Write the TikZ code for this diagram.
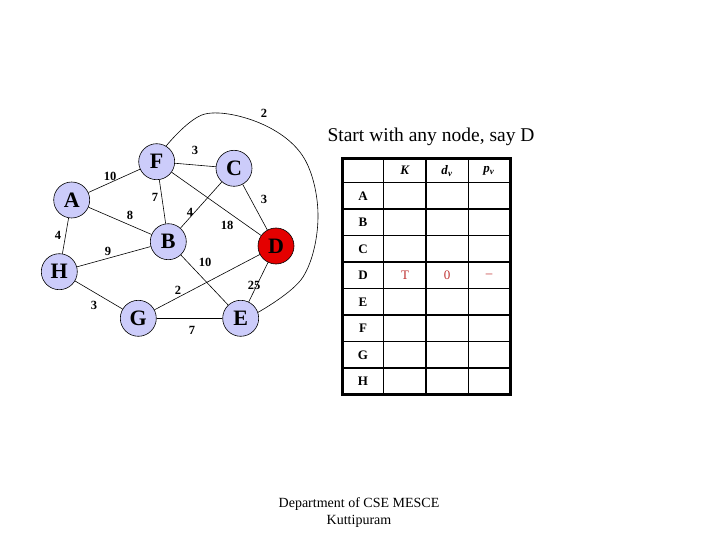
\documentclass[tikz,border=0pt]{standalone}
\usepackage{fontspec}
\setmainfont{Liberation Serif}
\definecolor{nodefill}{RGB}{204,204,250}
\definecolor{dnode}{RGB}{228,0,0}
\definecolor{cellred}{RGB}{190,48,48}
\begin{document}
\begin{tikzpicture}[x=1pt,y=-1pt,
  vert/.style={circle,draw=black,line width=0.6pt,fill=nodefill,minimum size=36pt,inner sep=0pt,font=\fontsize{22}{22}\selectfont\bfseries},
  wlab/.style={inner sep=0pt,font=\fontsize{12.5}{12.5}\selectfont\bfseries},
  edge/.style={line width=0.6pt,black},
  tlab/.style={inner sep=0pt,font=\fontsize{13}{13}\selectfont\bfseries},
  tred/.style={inner sep=0pt,text=cellred,font=\fontsize{13}{13}\selectfont}]
\useasboundingbox (0,0) rectangle (720,540);
% graph nodes
\node[vert] (F) at (156.7,161.7) {F};
\node[vert] (C) at (234,168.3) {C};
\node[vert] (A) at (71.7,200) {A};
\node[vert] (B) at (168.3,241.7) {B};
\node[vert,fill=dnode] (D) at (276,246) {D};
\node[vert] (H) at (59.3,271.7) {H};
\node[vert] (G) at (138.3,318.3) {G};
\node[vert] (E) at (240.7,318.3) {E};
% edges
\draw[edge] (F) -- (C);
\draw[edge] (F) -- (A);
\draw[edge] (F) -- (B);
\draw[edge] (F) -- (D);
\draw[edge] (C) -- (D);
\draw[edge] (C) -- (B);
\draw[edge] (A) -- (B);
\draw[edge] (A) -- (H);
\draw[edge] (H) -- (B);
\draw[edge] (H) -- (G);
\draw[edge] (B) -- (E);
\draw[edge] (G) -- (D);
\draw[edge] (D) -- (E);
\draw[edge] (G) -- (E);
\draw[edge] plot[smooth,tension=0.6] coordinates {(F.59) (205,114) (262,124) (304,158) (318,217) (303,277) (E.19)};
% edge weights
\node[wlab] (w1) at (264,113) {2};
\node[wlab] (w2) at (195,150) {3};
\node[wlab] (w3) at (110,176) {10};
\node[wlab] (w4) at (155,197) {7};
\node[wlab] (w5) at (264,199) {3};
\node[wlab] (w6) at (130,215) {8};
\node[wlab] (w7) at (190,212) {4};
\node[wlab] (w8) at (227,225) {18};
\node[wlab] (w9) at (58,235) {4};
\node[wlab] (w10) at (108,251) {9};
\node[wlab] (w11) at (205,262) {10};
\node[wlab] (w12) at (254,285) {25};
\node[wlab] (w13) at (178,290) {2};
\node[wlab] (w14) at (94,305) {3};
\node[wlab] (w15) at (192,330) {7};
% title
\node[inner sep=0pt,font=\fontsize{19.5}{19.5}\selectfont] (title) at (431,137) {Start with any node, say D};
% table grid
\draw[line width=1.3pt] (383.5,158.5) -- (383.5,394.5);
\draw[line width=1.3pt] (426,158.5) -- (426,394.5);
\draw[line width=1.3pt] (468.5,158.5) -- (468.5,394.5);
\foreach \yy in {182.5,209,235.5,262,288.5,315,341.5,368}
  \draw[line width=1.3pt] (342.5,\yy) -- (510.5,\yy);
\draw[line width=2.2pt] (342.5,158.5) rectangle (510.5,394.5);
% header
\node[tlab] (hK) at (405,170.5) {\textit{K}};
\node[tlab] (hd) at (447,171) {\textit{d}\textsubscript{\textit{v}}};
\node[tlab] (hp) at (489,171) {\textit{p}\textsubscript{\textit{v}}};
% row labels
\node[tlab] (rA) at (363,196) {A};
\node[tlab] (rB) at (363,222.5) {B};
\node[tlab] (rC) at (363,249) {C};
\node[tlab] (rD) at (363,275.5) {D};
\node[tlab] (rE) at (363,302) {E};
\node[tlab] (rF) at (363,328.5) {F};
\node[tlab] (rG) at (363,355) {G};
\node[tlab] (rH) at (363,381.5) {H};
% D row entries
\node[tred] (dK) at (405,275.5) {T};
\node[tred] (dd) at (447,275.5) {0};
\node[tred] (dp) at (489,275.5) {–};
% footer
\node[inner sep=0pt,font=\fontsize{14}{14}\selectfont] (foot1) at (359,504) {Department of CSE MESCE};
\node[inner sep=0pt,font=\fontsize{14}{14}\selectfont] (foot2) at (359,521) {Kuttipuram};
\end{tikzpicture}
\end{document}
